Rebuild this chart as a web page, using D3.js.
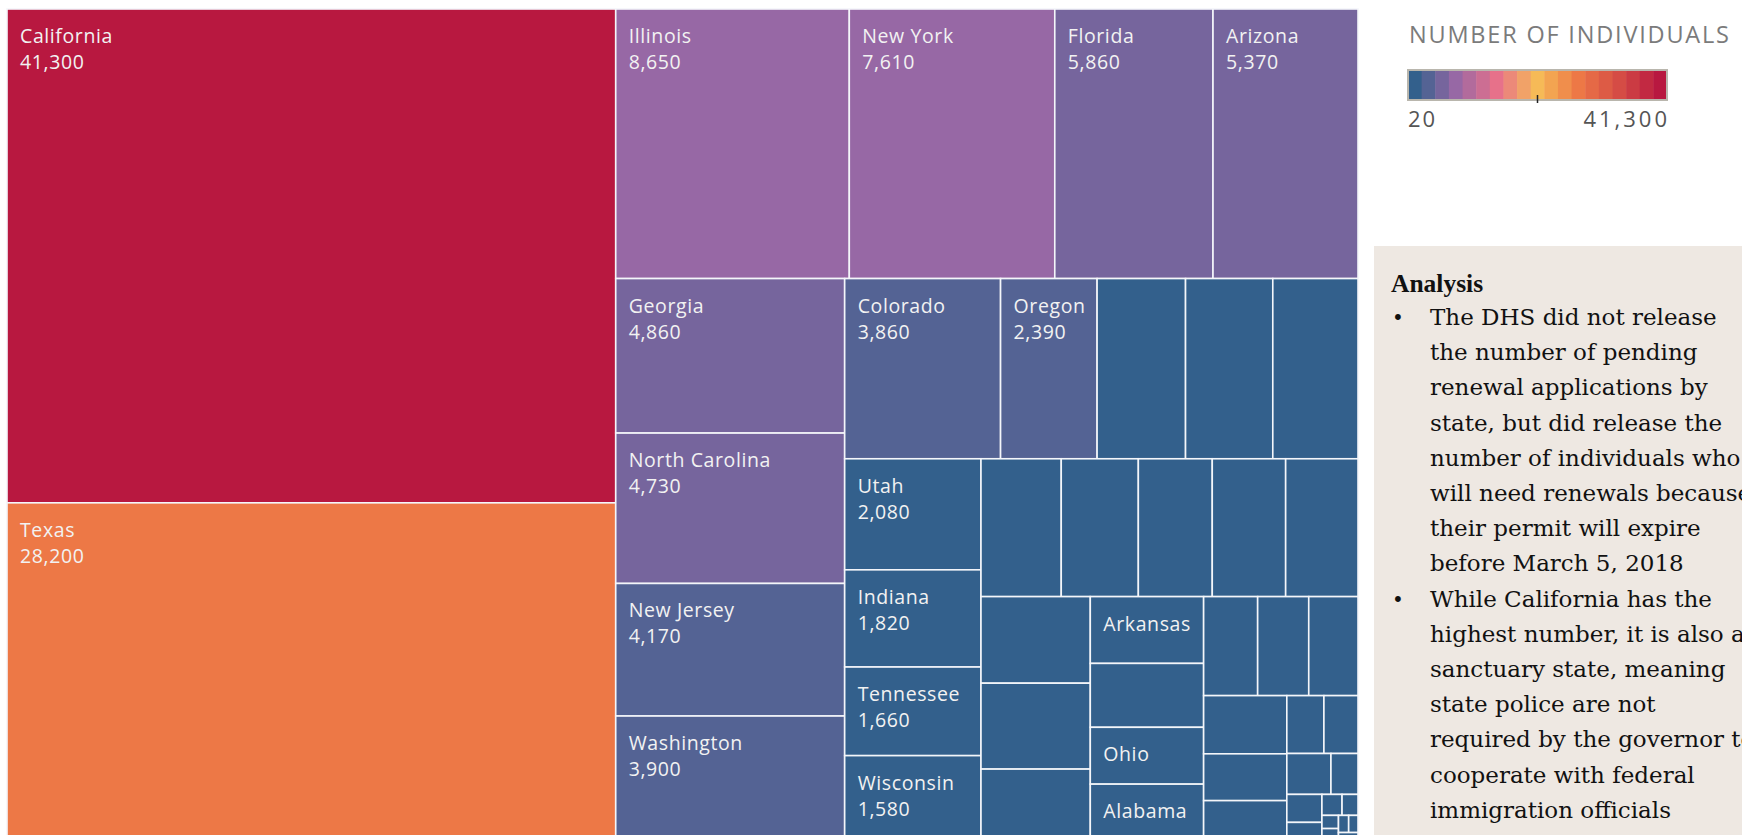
<!DOCTYPE html>
<html>
<head>
<meta charset="utf-8">
<script src="https://cdn.jsdelivr.net/npm/d3@7"></script>
<style>
  html, body { margin: 0; padding: 0; background: #fff; overflow: hidden; }
  svg { display: block; }
</style>
</head>
<body>
<div id="chart"></div>
<script>
// DACA recipients whose permits expire before March 5, 2018, by state
const states = [
  "California", "Texas", "Illinois", "New York", "Florida", "Arizona",
  "Georgia", "North Carolina", "New Jersey", "Washington", "Colorado", "Oregon",
  "Nevada", "Virginia", "Maryland", "Utah", "Indiana", "Tennessee", "Wisconsin",
  "Oklahoma", "New Mexico", "Kansas", "Pennsylvania", "Michigan",
  "Massachusetts", "Minnesota", "South Carolina",
  "Arkansas", "Nebraska", "Ohio", "Alabama",
  "Connecticut", "Kentucky", "Missouri",
  "Louisiana", "Iowa", "Mississippi",
  "Idaho", "Rhode Island", "Delaware", "District of Columbia",
  "Hawaii", "New Hampshire", "Wyoming", "Alaska", "Montana", "Maine",
  "West Virginia", "Vermont", "South Dakota"
];
const values = [
  41300, 28200, 8650, 7610, 5860, 5370,
  4860, 4730, 4170, 3900, 3860, 2390,
  2190, 2160, 2110, 2080, 1820, 1660, 1580,
  1520, 1460, 1400, 1390, 1370,
  1300, 1290, 1065,
  1040, 995, 885, 870,
  735, 695, 670,
  665, 535, 450,
  295, 271, 248, 152,
  135, 85, 58, 46, 30, 26,
  24, 22, 20
];
// cells that carry name + value, and cells that only carry the name
const withValue = ["California", "Texas", "Illinois", "New York", "Florida", "Arizona",
  "Georgia", "North Carolina", "New Jersey", "Washington", "Colorado", "Oregon",
  "Utah", "Indiana", "Tennessee", "Wisconsin"];
const nameOnly = ["Arkansas", "Ohio", "Alabama"];

const palette = ["#33608c", "#9768a5", "#e7718a", "#f6ba57", "#ed7846", "#d54c45", "#b81840"];
const steps = 19;
const legendTitle = "NUMBER OF INDIVIDUALS";
const analysisTitle = "Analysis";
const analysisLines = [
  { bullet: true,  text: "The DHS did not release" },
  { bullet: false, text: "the number of pending" },
  { bullet: false, text: "renewal applications by" },
  { bullet: false, text: "state, but did release the" },
  { bullet: false, text: "number of individuals who" },
  { bullet: false, text: "will need renewals because" },
  { bullet: false, text: "their permit will expire" },
  { bullet: false, text: "before March 5, 2018" },
  { bullet: true,  text: "While California has the" },
  { bullet: false, text: "highest number, it is also a" },
  { bullet: false, text: "sanctuary state,  meaning" },
  { bullet: false, text: "state  police are not" },
  { bullet: false, text: "required by the governor to" },
  { bullet: false, text: "cooperate with federal" },
  { bullet: false, text: "immigration officials" }
];

const width = 1742, height = 835;
const tm = { x: 7, y: 9, w: 1351, h: 831 };
const labelFont = "'Open Sans', 'Noto Sans', sans-serif";
const serifFont = "'DejaVu Serif', 'Liberation Serif', serif";

const svg = d3.select("#chart").append("svg")
  .attr("width", width)
  .attr("height", height)
  .attr("viewBox", `0 0 ${width} ${height}`);

// --- colour ---
const vmin = d3.min(values), vmax = d3.max(values);
const stepColors = d3.quantize(d3.piecewise(d3.interpolateRgb, palette), steps);
const color = d3.scaleQuantize().domain([vmin, vmax]).range(stepColors);

// --- treemap ---
const data = { children: states.map((s, i) => ({ name: s, value: values[i] })) };
const root = d3.hierarchy(data)
  .sum(d => d.value || 0)
  .sort((a, b) => b.value - a.value);

d3.treemap()
  .tile(d3.treemapSquarify)
  .size([tm.w, tm.h])(root);

const g = svg.append("g").attr("transform", `translate(${tm.x},${tm.y})`);

const cell = g.selectAll("g.cell")
  .data(root.leaves())
  .join("g")
  .attr("class", "cell")
  .attr("transform", d => `translate(${d.x0},${d.y0})`);

cell.append("rect")
  .attr("width", d => d.x1 - d.x0)
  .attr("height", d => d.y1 - d.y0)
  .attr("fill", d => color(d.value))
  .attr("stroke", "#f4f6fa")
  .attr("stroke-width", 1.6);

const fmt = d3.format(",");

cell.filter(d => withValue.includes(d.data.name) || nameOnly.includes(d.data.name))
  .append("text")
  .attr("x", 13)
  .attr("y", 34)
  .attr("fill", "#f2f2f2")
  .attr("font-family", labelFont)
  .attr("font-size", "19.5px")
  .attr("letter-spacing", "0.6px")
  .text(d => d.data.name);

cell.filter(d => withValue.includes(d.data.name))
  .append("text")
  .attr("x", 13)
  .attr("y", 60)
  .attr("fill", "#f2f2f2")
  .attr("font-family", labelFont)
  .attr("font-size", "19.5px")
  .attr("letter-spacing", "0.6px")
  .text(d => fmt(d.data.value));

// --- legend ---
const lg = { x: 1408, y: 70, w: 259, h: 30 };
const lx = d3.scaleLinear().domain([vmin, vmax]).range([lg.x, lg.x + lg.w]);

svg.append("text")
  .attr("x", 1409)
  .attr("y", 43)
  .attr("fill", "#7b7b7b")
  .attr("font-family", labelFont)
  .attr("font-size", "23.5px")
  .attr("letter-spacing", "1.8px")
  .text(legendTitle);

const sw = lg.w / steps;
svg.append("g").selectAll("rect")
  .data(stepColors)
  .join("rect")
  .attr("x", (c, i) => lg.x + i * sw)
  .attr("y", lg.y)
  .attr("width", sw + 0.5)
  .attr("height", lg.h)
  .attr("fill", c => c);

svg.append("rect")
  .attr("x", lg.x)
  .attr("y", lg.y)
  .attr("width", lg.w)
  .attr("height", lg.h)
  .attr("fill", "none")
  .attr("stroke", "#b9b6ad")
  .attr("stroke-width", 2);

const mid = lx((vmin + vmax) / 2);
svg.append("line")
  .attr("x1", mid).attr("x2", mid)
  .attr("y1", lg.y + lg.h - 5).attr("y2", lg.y + lg.h + 3)
  .attr("stroke", "#222")
  .attr("stroke-width", 1.5);

svg.append("text")
  .attr("x", lx(vmin))
  .attr("y", 127)
  .attr("fill", "#555")
  .attr("font-family", labelFont)
  .attr("font-size", "22px")
  .attr("letter-spacing", "2px")
  .text(fmt(vmin));

svg.append("text")
  .attr("x", lx(vmax) + 3)
  .attr("y", 127)
  .attr("text-anchor", "end")
  .attr("fill", "#555")
  .attr("font-family", labelFont)
  .attr("font-size", "22px")
  .attr("letter-spacing", "3px")
  .text(fmt(vmax));

// --- analysis panel ---
svg.append("rect")
  .attr("x", 1374)
  .attr("y", 246)
  .attr("width", width - 1374)
  .attr("height", height - 246)
  .attr("fill", "#eee8e2");

svg.append("text")
  .attr("x", 1391)
  .attr("y", 292)
  .attr("fill", "#111")
  .attr("font-family", "'Liberation Serif', serif")
  .attr("font-weight", "bold")
  .attr("font-size", "25.5px")
  .text(analysisTitle);

const lines = svg.append("g").selectAll("g")
  .data(analysisLines)
  .join("g")
  .attr("transform", (d, i) => `translate(0,${325 + i * 35.2})`);

lines.filter(d => d.bullet).append("text")
  .attr("x", 1392)
  .attr("fill", "#111")
  .attr("font-family", serifFont)
  .attr("font-size", "20px")
  .text("\u2022");

lines.append("text")
  .attr("x", 1430)
  .attr("fill", "#111")
  .attr("font-family", serifFont)
  .attr("font-size", "23px")
  .text(d => d.text);
</script>
</body>
</html>
